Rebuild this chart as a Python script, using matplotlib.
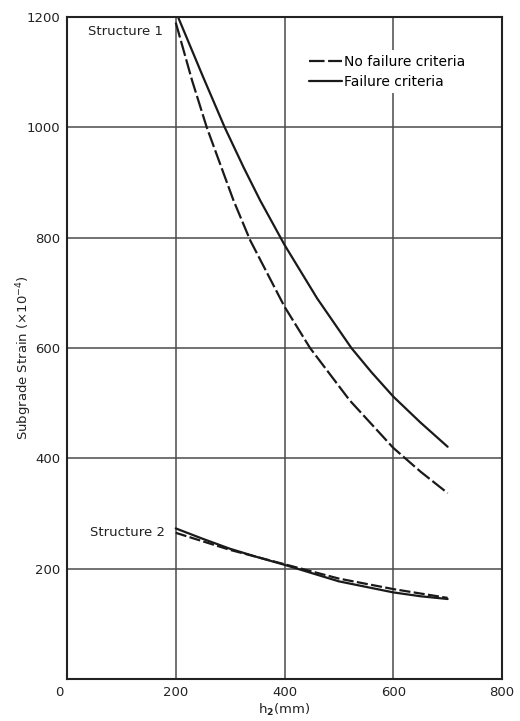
import matplotlib
matplotlib.use("Agg")
import matplotlib.pyplot as plt
from matplotlib.transforms import ScaledTranslation

plt.rcParams["font.family"] = ["DejaVu Sans"]
plt.rcParams["mathtext.fontset"] = "dejavusans"

# Subgrade strain (x10^-4) against thickness h2 (mm)
s1_fail_h = [200, 250, 290, 325, 355, 400, 460, 523, 560, 600, 650, 700]
s1_fail_strain = [1210, 1092, 1000, 927, 868, 787, 690, 600, 556, 512, 465, 421]

s1_nofail_h = [200, 230, 257, 306, 337, 400, 447, 520, 600, 650, 700]
s1_nofail_strain = [1190, 1085, 1000, 868, 795, 675, 600, 505, 419, 376, 337]

s2_fail_h = [200, 250, 300, 350, 400, 450, 500, 600, 650, 700]
s2_fail_strain = [273, 254, 236, 221, 207, 192, 177, 157, 150, 145]

s2_nofail_h = [200, 300, 400, 500, 600, 700]
s2_nofail_strain = [265, 234, 208, 182, 163, 147]

x_ticks = [0, 200, 400, 600, 800]
y_ticks = [200, 400, 600, 800, 1000, 1200]

fig = plt.figure(figsize=(5.2, 7.21), dpi=100)
ax = fig.add_axes([67 / 520, 1 - 679 / 721, 435 / 520, 662 / 721])

ink = "#1a1a1a"

ax.plot(s1_fail_h, s1_fail_strain, color=ink, lw=1.6, solid_capstyle="round",
        solid_joinstyle="round", label="Failure criteria")
ax.plot(s1_nofail_h, s1_nofail_strain, color=ink, lw=1.6, linestyle=(0, (7, 1.6)),
        dash_joinstyle="round", label="No failure criteria")
ax.plot(s2_fail_h, s2_fail_strain, color=ink, lw=1.6, solid_capstyle="round",
        solid_joinstyle="round")
ax.plot(s2_nofail_h, s2_nofail_strain, color=ink, lw=1.6, linestyle=(0, (5, 1.5)))

ax.set_xlim(0, 800)
ax.set_ylim(0, 1200)
ax.set_xticks(x_ticks)
ax.set_yticks(y_ticks)
ax.tick_params(length=0, labelsize=9.5, colors="#222222", pad=5)
ax.grid(True, color="#4a4a4a", lw=1.1)
ax.set_axisbelow(True)
for sp in ax.spines.values():
    sp.set_color("#222222")
    sp.set_linewidth(1.5)

# nudge the origin label left, as lettered on the drawing
lbl0 = ax.get_xticklabels()[0]
lbl0.set_transform(lbl0.get_transform() + ScaledTranslation(-8 / 100, 0, fig.dpi_scale_trans))

ax.set_xlabel("h$_\\mathbf{2}$(mm)", fontsize=9.5, color="#222222", labelpad=2)
ax.set_ylabel("Subgrade Strain (\u00d710$^{-4}$)", fontsize=9.5, color="#222222")
ax.yaxis.set_label_coords(-0.075, 0.485)

ax.text(177, 1173, "Structure 1", ha="right", va="center", fontsize=9.5, color="#222222")
ax.text(180, 265, "Structure 2", ha="right", va="center", fontsize=9.5, color="#222222")

handles, labels = ax.get_legend_handles_labels()
leg = ax.legend(handles[::-1], labels[::-1], loc="upper left",
                bbox_to_anchor=(0.53, 0.96), frameon=True, fontsize=10,
                handlelength=2.4, handletextpad=0.15, labelspacing=0.45,
                borderpad=0.3, edgecolor="none", facecolor="white", framealpha=1)

fig.savefig("out.png", dpi=100, facecolor="white")
